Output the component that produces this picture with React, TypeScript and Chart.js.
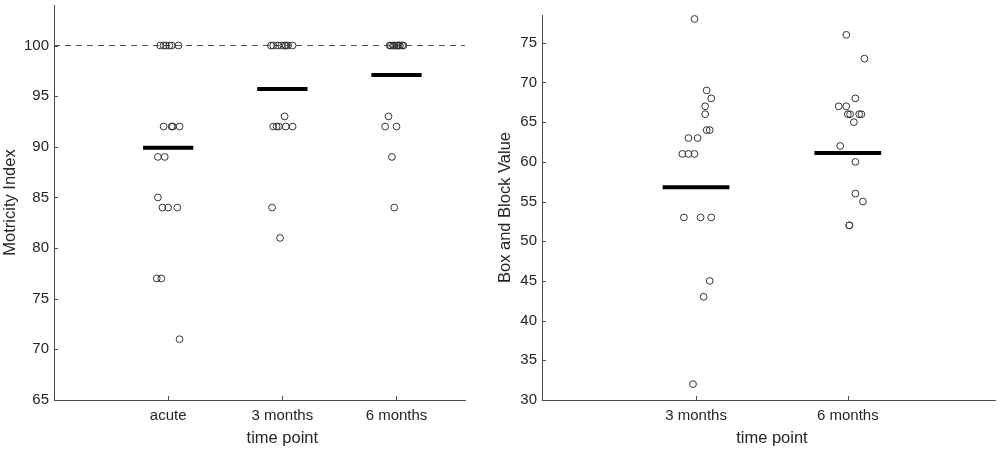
import { useEffect, useRef } from 'react';
import { Chart, registerables } from 'chart.js';
Chart.register(...registerables);

// ---- left panel: Motricity Index ----
const MI_CATS = ['acute', '3 months', '6 months'];
const MI_ACUTE = [100, 100, 100, 100, 100, 100, 92, 92, 92, 92, 89, 89, 85, 84, 84, 84, 77, 77, 71];
const MI_ACUTE_JIT = [-0.07, -0.04, -0.02, 0.01, 0.03, 0.09, -0.04, 0.03, 0.04, 0.1, -0.09, -0.03, -0.09, -0.05, 0, 0.08, -0.1, -0.06, 0.1];
const MI_3M = [100, 100, 100, 100, 100, 100, 100, 100, 93, 92, 92, 92, 92, 92, 84, 81];
const MI_3M_JIT = [-0.1, -0.08, -0.04, -0.01, 0.02, 0.03, 0.05, 0.09, 0.02, -0.08, -0.05, -0.03, 0.03, 0.09, -0.09, -0.02];
const MI_6M = [100, 100, 100, 100, 100, 100, 100, 100, 100, 100, 93, 92, 92, 89, 84];
const MI_6M_JIT = [-0.06, -0.05, -0.03, -0.02, 0, 0.01, 0.02, 0.03, 0.05, 0.06, -0.07, -0.1, 0, -0.04, -0.02];
const MI_MEANS = [89.9, 95.7, 97.1];
const MI_REF = 100;

// ---- right panel: Box and Block ----
const BB_CATS = ['3 months', '6 months'];
const BB_3M = [78, 69, 68, 67, 66, 64, 64, 63, 63, 61, 61, 61, 53, 53, 53, 45, 43, 32];
const BB_3M_JIT = [-0.01, 0.07, 0.1, 0.06, 0.06, 0.07, 0.09, -0.05, 0.01, -0.09, -0.05, -0.01, -0.08, 0.03, 0.1, 0.09, 0.05, -0.02];
const BB_6M = [76, 73, 68, 67, 67, 66, 66, 66, 66, 65, 62, 60, 56, 55, 52, 52];
const BB_6M_JIT = [-0.01, 0.11, 0.05, -0.06, -0.01, 0, 0.015, 0.075, 0.09, 0.04, -0.05, 0.05, 0.05, 0.1, 0.01, 0.01];
const BB_MEANS = [56.8, 61.1];

const FONT = '"Liberation Sans", Arial, sans-serif';
const TEXT = '#262626';
const AXIS = '#4d4d4d';
const HALF_BAR = 0.22;

// MATLAB-ish: ticks pointing inward, x label centred under the categories
const matlabAxes = {
  id: 'matlabAxes',
  afterDraw(chart: any, _a: any, opts: any) {
    const { ctx } = chart;
    const x = chart.scales.x;
    const y = chart.scales.y;
    ctx.save();
    ctx.strokeStyle = AXIS;
    ctx.lineWidth = 1;
    ctx.beginPath();
    for (const t of y.ticks) {
      const py = Math.round(y.getPixelForValue(t.value)) + 0.5;
      ctx.moveTo(x.left, py);
      ctx.lineTo(x.left + 4, py);
    }
    for (const t of x.ticks) {
      const px = Math.round(x.getPixelForValue(t.value)) + 0.5;
      ctx.moveTo(px, y.bottom);
      ctx.lineTo(px, y.bottom - 4);
    }
    ctx.stroke();
    ctx.fillStyle = TEXT;
    ctx.font = `16.5px ${FONT}`;
    ctx.textAlign = 'center';
    ctx.textBaseline = 'middle';
    ctx.fillText(opts.xTitle, x.getPixelForValue(opts.titleAt), opts.titleY);
    ctx.restore();
  },
};

function pts(vals: number[], jit: number[], c: number) {
  return vals.map((v, i) => ({ x: c + jit[i], y: v }));
}

function circles(data: { x: number; y: number }[]) {
  return {
    data,
    pointStyle: 'circle',
    pointRadius: 3.4,
    pointBackgroundColor: 'rgba(0,0,0,0)',
    pointBorderColor: '#333',
    pointBorderWidth: 1,
    showLine: false,
  };
}

function meanBar(m: number, c: number) {
  return {
    data: [{ x: c - HALF_BAR, y: m }, { x: c + HALF_BAR, y: m }],
    showLine: true,
    borderColor: '#000',
    borderWidth: 4,
    pointRadius: 0,
    borderCapStyle: 'butt',
  };
}

const noPad = (s: any) => {
  s.paddingTop = 0;
  s.paddingBottom = 0;
  s.paddingLeft = 0;
  s.paddingRight = 0;
};

function makeOptions(cats: string[], xMin: number, xMax: number, yMin: number, yMax: number, yTitle: string,
  yWidth: number, titlePad: number, pad: any, titleAt: number) {
  return {
    responsive: true,
    maintainAspectRatio: false,
    animation: false,
    layout: { padding: pad },
    plugins: {
      legend: { display: false },
      tooltip: { enabled: false },
      matlabAxes: { xTitle: 'time point', titleAt, titleY: 438 },
    },
    scales: {
      x: {
        type: 'linear',
        min: xMin,
        max: xMax,
        afterBuildTicks: (s: any) => { s.ticks = cats.map((_, i) => ({ value: i + 1 })); },
        afterFit: (s: any) => { s.height = 52; noPad(s); },
        ticks: {
          callback: (v: any) => cats[Math.round(v) - 1] ?? '',
          color: TEXT,
          font: { size: 15, family: FONT },
          padding: 7,
          maxRotation: 0,
          autoSkip: false,
        },
        grid: { display: false, drawTicks: false },
        border: { display: true, color: AXIS, width: 1 },
      },
      y: {
        min: yMin,
        max: yMax,
        afterFit: (s: any) => { s.width = yWidth; noPad(s); },
        ticks: {
          stepSize: 5,
          includeBounds: false,
          color: TEXT,
          font: { size: 15, family: FONT },
          padding: 5,
        },
        grid: { display: false, drawTicks: false },
        border: { display: true, color: AXIS, width: 1 },
        title: {
          display: true,
          text: yTitle,
          color: TEXT,
          font: { size: 16.5, family: FONT },
          padding: { top: titlePad, bottom: 0 },
        },
      },
    },
  };
}

export default function App() {
  const leftRef = useRef<HTMLCanvasElement>(null);
  const rightRef = useRef<HTMLCanvasElement>(null);

  useEffect(() => {
    const left = new Chart(leftRef.current!, {
      type: 'scatter',
      data: {
        datasets: [
          circles([
            ...pts(MI_ACUTE, MI_ACUTE_JIT, 1),
            ...pts(MI_3M, MI_3M_JIT, 2),
            ...pts(MI_6M, MI_6M_JIT, 3),
          ]),
          ...MI_MEANS.map((m, i) => meanBar(m, i + 1)),
          {
            data: [{ x: 0, y: MI_REF }, { x: 3.6, y: MI_REF }],
            showLine: true,
            borderColor: '#555',
            borderWidth: 1.2,
            borderDash: [6, 5],
            pointRadius: 0,
          },
        ] as any,
      },
      options: makeOptions(MI_CATS, 0, 3.6, 65, 104, 'Motricity Index', 54, 1,
        { top: 3, right: 25, left: 0, bottom: 0 }, 2) as any,
      plugins: [matlabAxes],
    });

    const right = new Chart(rightRef.current!, {
      type: 'scatter',
      data: {
        datasets: [
          circles([
            ...pts(BB_3M, BB_3M_JIT, 1),
            ...pts(BB_6M, BB_6M_JIT, 2),
          ]),
          ...BB_MEANS.map((m, i) => meanBar(m, i + 1)),
        ] as any,
      },
      options: makeOptions(BB_CATS, -0.015, 2.97, 30, 78.5, 'Box and Block Value', 52, 6,
        { top: 15, right: 4, left: 0, bottom: 0 }, 1.5) as any,
      plugins: [matlabAxes],
    });

    return () => { left.destroy(); right.destroy(); };
  }, []);

  return (
    <div style={{ position: 'fixed', left: 0, top: 0, width: 1000, height: 452, background: '#fff' }}>
      <div style={{ position: 'absolute', left: 0, top: 0, width: 490, height: 452 }}>
        <canvas ref={leftRef} />
      </div>
      <div style={{ position: 'absolute', left: 490, top: 0, width: 510, height: 452 }}>
        <canvas ref={rightRef} />
      </div>
    </div>
  );
}
